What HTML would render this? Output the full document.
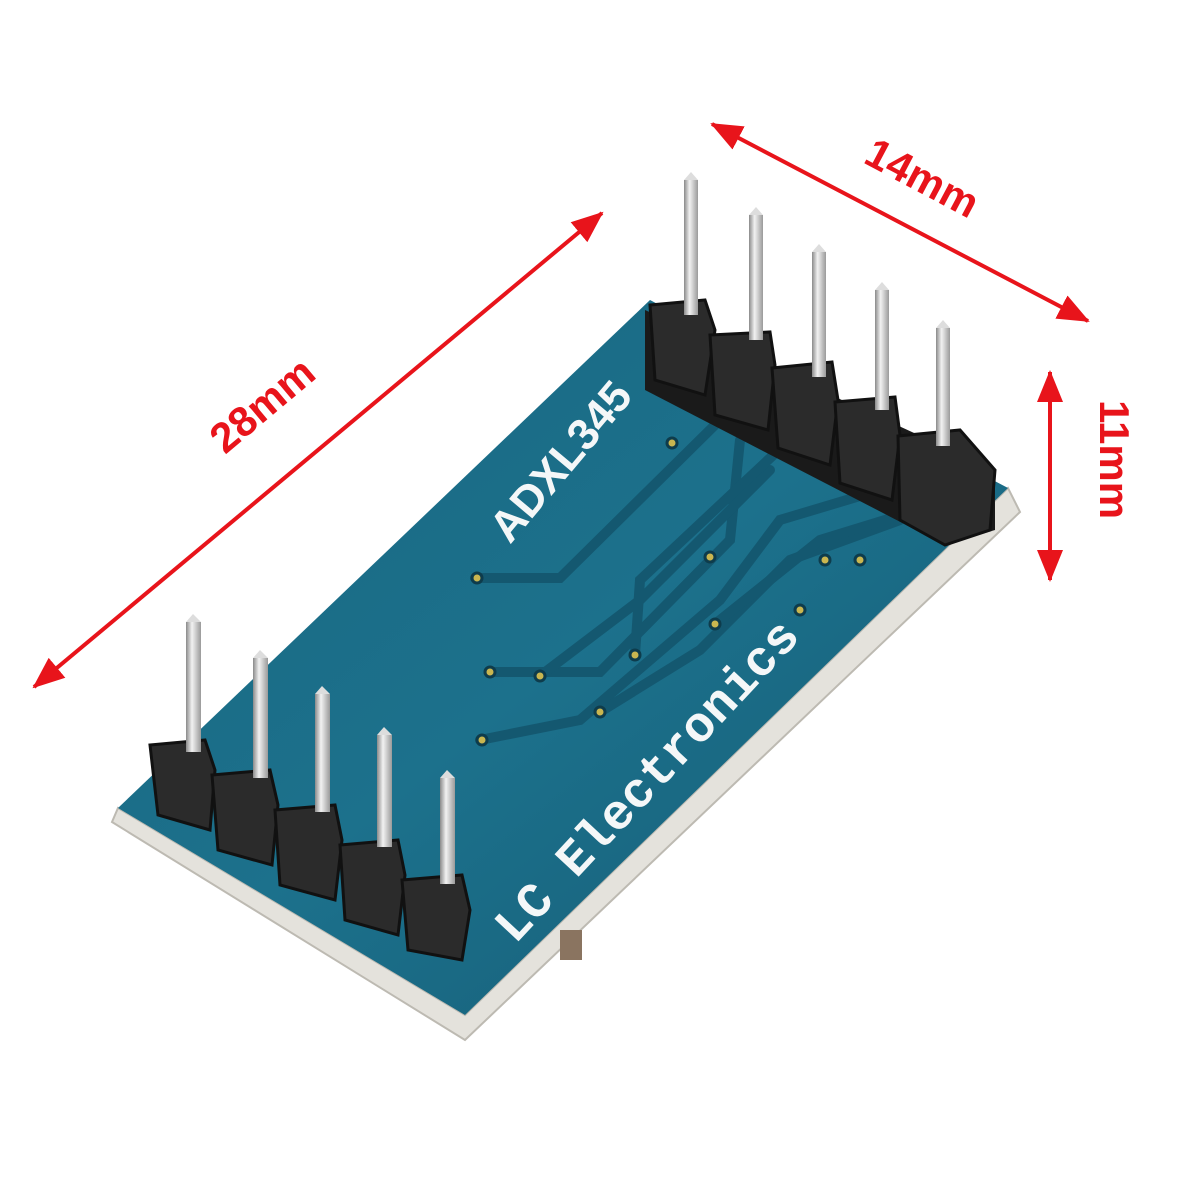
<!DOCTYPE html>
<html><head><meta charset="utf-8"><style>html,body{margin:0;padding:0;background:#fff}svg{display:block}</style></head>
<body>
<svg width="1200" height="1200" viewBox="0 0 1200 1200" xmlns="http://www.w3.org/2000/svg">
<defs>
<linearGradient id="bd" x1="0" y1="0" x2="1" y2="1">
<stop offset="0" stop-color="#196680"/><stop offset="0.5" stop-color="#1c718c"/><stop offset="1" stop-color="#155a73"/>
</linearGradient>
<linearGradient id="pin" x1="0" y1="0" x2="1" y2="0">
<stop offset="0" stop-color="#8a8a8a"/><stop offset="0.4" stop-color="#f2f2f2"/><stop offset="1" stop-color="#9a9a9a"/>
</linearGradient>
<marker id="ah" markerWidth="32" markerHeight="26" refX="30" refY="13" orient="auto-start-reverse" markerUnits="userSpaceOnUse" viewBox="0 0 32 26">
<path d="M0,0 L32,13 L0,26 z" fill="#e8141b"/></marker>
</defs>
<polygon points="112,822 465,1040 1020,512 1008,488 465,1015 118,808" fill="#e4e2dc" stroke="#bdbab2" stroke-width="2"/>
<polygon points="118,808 650,300 1008,488 465,1015" fill="url(#bd)"/>
<g stroke="#145870" stroke-width="10" fill="none" stroke-linecap="round">
<path d="M475,578 L560,578 L720,420"/>
<path d="M490,672 L600,672 L730,540 L740,440"/>
<path d="M540,676 L640,600 L770,470"/>
<path d="M635,655 L640,580 L800,430"/>
<path d="M480,740 L580,720 L720,600 L780,520 L880,490"/>
<path d="M600,712 L700,650 L790,560 L900,520"/>
<path d="M715,624 L820,540 L950,500"/>
</g>
<g fill="#c9b650" stroke="#0e3c4c" stroke-width="3">
<circle cx="672" cy="443" r="5"/><circle cx="477" cy="578" r="5"/><circle cx="710" cy="557" r="5"/>
<circle cx="825" cy="560" r="5"/><circle cx="860" cy="560" r="5"/><circle cx="800" cy="610" r="5"/>
<circle cx="715" cy="624" r="5"/><circle cx="635" cy="655" r="5"/><circle cx="490" cy="672" r="5"/>
<circle cx="540" cy="676" r="5"/><circle cx="600" cy="712" r="5"/><circle cx="482" cy="740" r="5"/>
</g>
<text x="0" y="0" transform="translate(510,545) rotate(-50)" font-family="Liberation Sans, sans-serif" font-weight="bold" font-size="44" fill="#f4f7f8">ADXL345</text>
<text x="0" y="0" transform="translate(515,945) rotate(-47)" font-family="Liberation Mono, monospace" font-weight="bold" font-size="50" fill="#f4f7f8">LC Electronics</text>
<rect x="560" y="930" width="22" height="30" fill="#8a7460"/>
<g>
<polygon points="645,310 995,470 995,530 945,545 645,390" fill="#1a1a1a"/>
<g fill="#2b2b2b" stroke="#111" stroke-width="3">
<polygon points="650,305 705,300 715,330 705,395 655,380"/>
<polygon points="710,335 770,332 775,365 768,430 715,415"/>
<polygon points="772,368 832,362 838,400 830,465 778,448"/>
<polygon points="835,402 895,397 900,435 892,500 840,483"/>
<polygon points="898,436 960,430 995,470 990,530 945,545 900,520"/>
</g>
<rect x="684" y="180" width="14" height="135" fill="url(#pin)"/><polygon points="684,180 691,172 698,180" fill="#ddd"/>
<rect x="749" y="215" width="14" height="125" fill="url(#pin)"/><polygon points="749,215 756,207 763,215" fill="#ddd"/>
<rect x="812" y="252" width="14" height="125" fill="url(#pin)"/><polygon points="812,252 819,244 826,252" fill="#ddd"/>
<rect x="875" y="290" width="14" height="120" fill="url(#pin)"/><polygon points="875,290 882,282 889,290" fill="#ddd"/>
<rect x="936" y="328" width="14" height="118" fill="url(#pin)"/><polygon points="936,328 943,320 950,328" fill="#ddd"/>
</g>
<g fill="#2b2b2b" stroke="#111" stroke-width="3">
<polygon points="150,745 205,740 215,770 210,830 158,815"/>
<polygon points="212,775 270,770 278,805 272,865 218,850"/>
<polygon points="275,810 335,805 342,840 335,900 280,885"/>
<polygon points="340,845 398,840 405,875 398,935 345,920"/>
<polygon points="402,880 462,875 470,910 462,960 408,950"/>
</g>
<rect x="186" y="622" width="15" height="130" fill="url(#pin)"/><polygon points="186,622 193,614 201,622" fill="#ddd"/>
<rect x="253" y="658" width="15" height="120" fill="url(#pin)"/><polygon points="253,658 260,650 268,658" fill="#ddd"/>
<rect x="315" y="694" width="15" height="118" fill="url(#pin)"/><polygon points="315,694 322,686 330,694" fill="#ddd"/>
<rect x="377" y="735" width="15" height="112" fill="url(#pin)"/><polygon points="377,735 384,727 392,735" fill="#ddd"/>
<rect x="440" y="778" width="15" height="106" fill="url(#pin)"/><polygon points="440,778 447,770 455,778" fill="#ddd"/>
<g stroke="#e8141b" stroke-width="4" fill="none">
<line x1="34" y1="687" x2="602" y2="213" marker-start="url(#ah)" marker-end="url(#ah)"/>
<line x1="712" y1="124" x2="1088" y2="321" marker-start="url(#ah)" marker-end="url(#ah)"/>
<line x1="1050" y1="372" x2="1050" y2="580" marker-start="url(#ah)" marker-end="url(#ah)"/>
</g>
<g font-family="Liberation Sans, sans-serif" font-weight="bold" font-size="42" fill="#e8141b">
<text transform="translate(225,455) rotate(-40)">28mm</text>
<text transform="translate(862,162) rotate(28)">14mm</text>
<text transform="translate(1100,400) rotate(90)">11mm</text>
</g>
</svg>
</body></html>
